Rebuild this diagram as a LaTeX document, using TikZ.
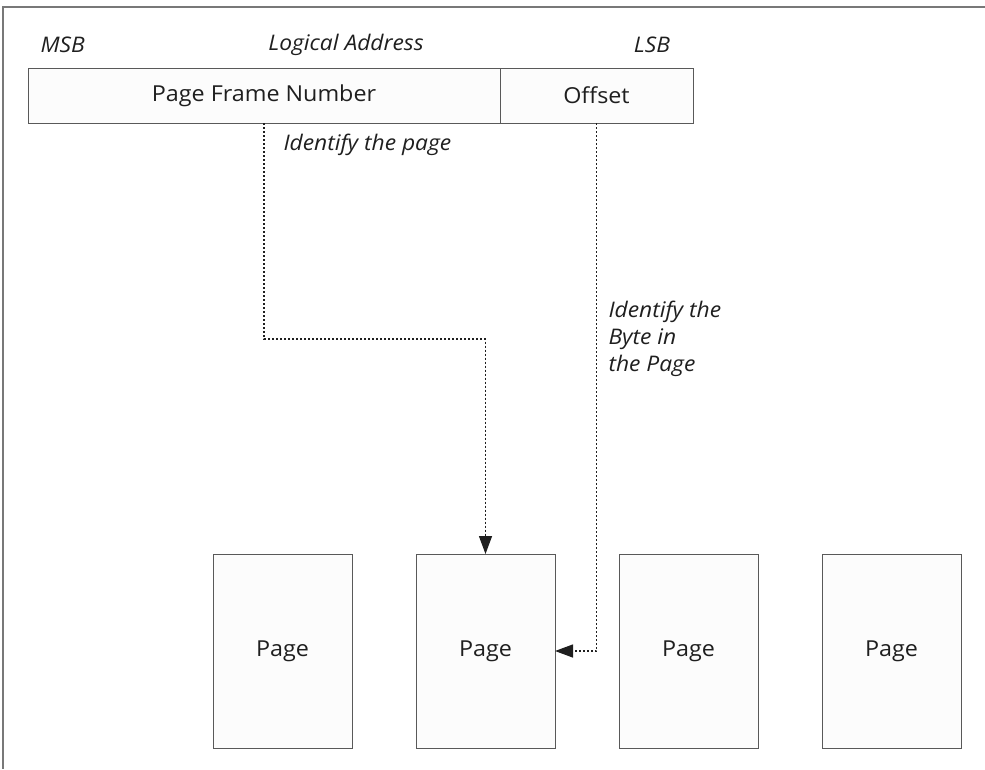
\documentclass[tikz,border=0pt]{standalone}
\usepackage{fontspec}
\setmainfont{Open Sans}[FakeStretch=1.06]
\usetikzlibrary{positioning,arrows.meta}
\definecolor{cframe}{rgb}{0.47, 0.47, 0.47}
\definecolor{cbox}{rgb}{0.99, 0.99, 0.99}
\definecolor{cline}{rgb}{0.35, 0.35, 0.35}
\definecolor{ctext}{rgb}{0.12, 0.12, 0.12}

\begin{document}
\begin{tikzpicture}[x=1pt,y=-1pt,>={Triangle[length=18pt,width=13pt]},
  every node/.style={text=ctext,font=\fontsize{22}{27}\selectfont},
  field/.style={rectangle,draw=cline,fill=cbox,line width=1pt,inner sep=0pt,outer sep=0pt,minimum height=55pt},
  page box/.style={rectangle,draw=cline,fill=cbox,line width=1pt,inner sep=0pt,outer sep=0pt,minimum width=139pt,minimum height=194pt},
  note/.style={font=\fontsize{21.5}{27}\selectfont\itshape},
  link/.style={->,dash pattern=on 2pt off 2pt,draw=ctext,line width=1.3pt}]
  \useasboundingbox (0,0) rectangle (985,769);
  \draw[cframe,line width=1.5pt] (985,7) -- (3,7) -- (3,769);

  % logical address
  \node[field,minimum width=472pt,anchor=north west] (pfn) at (28,68) {Page Frame Number};
  \node[field,minimum width=193pt,right=0pt of pfn] (offset) {Offset};
  \node[note,anchor=west] (msb) at (37,45) {MSB};
  \node[note] (addr) at (346,45) {Logical Address};
  \node[note] (lsb) at (652,45) {LSB};

  % memory pages
  \node[page box,anchor=north west] (page1) at (213,554) {Page};
  \node[page box,right=64pt of page1] (page2) {Page};
  \node[page box,right=64pt of page2] (page3) {Page};
  \node[page box,right=64pt of page3] (page4) {Page};

  \draw[link] (pfn.south) -- ++(0,216) -| (page2.north);
  \draw[link] (offset.south) |- (page2.east);

  \node[note,anchor=west] (which) at (280,145) {Identify the page};
  \node[note,anchor=west,align=left] (byte) at (605,339) {Identify the\\Byte in\\the Page};
\end{tikzpicture}
\end{document}
